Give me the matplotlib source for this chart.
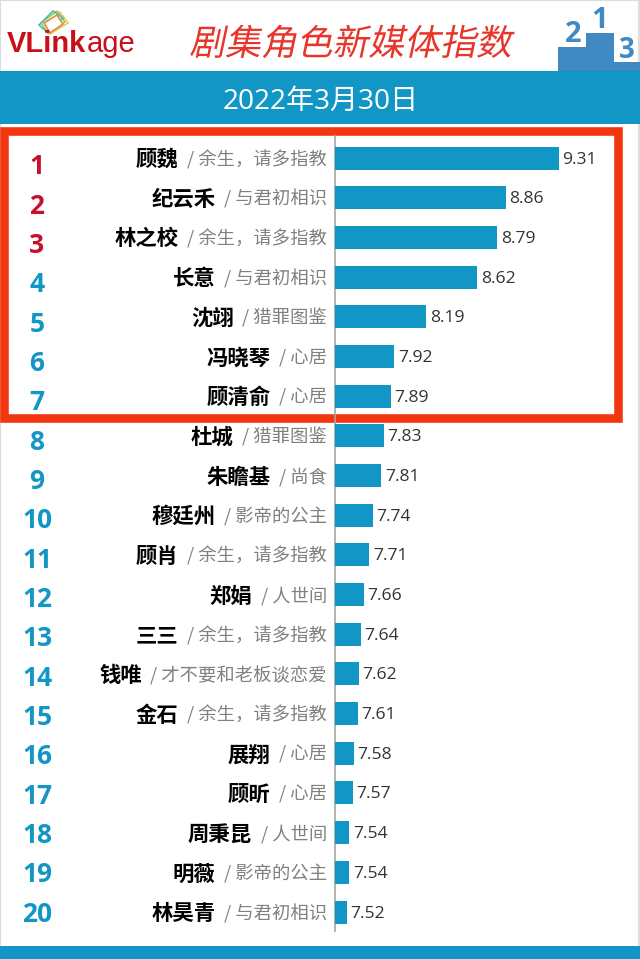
import matplotlib
matplotlib.use("Agg")
import matplotlib.pyplot as plt
from matplotlib.patches import Rectangle, Polygon
from matplotlib.patheffects import AbstractPathEffect
from matplotlib.transforms import Affine2D

plt.rcParams['font.family'] = ['Noto Sans CJK SC', 'DejaVu Sans']

ranks = list(range(1, 21))
names = ['顾魏', '纪云禾', '林之校', '长意', '沈翊', '冯晓琴', '顾清俞', '杜城', '朱瞻基', '穆廷州',
         '顾肖', '郑娟', '三三', '钱唯', '金石', '展翔', '顾昕', '周秉昆', '明薇', '林昊青']
shows = ['余生，请多指教', '与君初相识', '余生，请多指教', '与君初相识', '猎罪图鉴', '心居', '心居', '猎罪图鉴', '尚食', '影帝的公主',
         '余生，请多指教', '人世间', '余生，请多指教', '才不要和老板谈恋爱', '余生，请多指教', '心居', '心居', '人世间', '影帝的公主', '与君初相识']
values = [9.31, 8.86, 8.79, 8.62, 8.19, 7.92, 7.89, 7.83, 7.81, 7.74,
          7.71, 7.66, 7.64, 7.62, 7.61, 7.58, 7.57, 7.54, 7.54, 7.52]

BLUE = '#1296c5'
RED = '#f2360f'
W, H = 640, 959


class Slant(AbstractPathEffect):
    # CJK fonts have no italic, so shear the glyph outlines
    def draw_path(self, renderer, gc, tpath, affine, rgbFace=None):
        renderer.draw_path(gc, tpath, Affine2D().skew_deg(12, 0) + affine, rgbFace)


fig = plt.figure(figsize=(W / 100, H / 100), dpi=100, facecolor='white')

# page layer in pixel coordinates
bg = fig.add_axes([0, 0, 1, 1])
bg.set_xlim(0, W)
bg.set_ylim(H, 0)
bg.axis('off')

bg.add_patch(Rectangle((0, 0), W - 1, H - 1, fill=False, ec='#dddddd', lw=1.5))
bg.add_patch(Rectangle((0, 71), W, 53, fc=BLUE, ec='none'))
bg.add_patch(Rectangle((0, 946), W, 13, fc=BLUE, ec='none'))
bg.add_patch(Rectangle((4, 131), 614, 287, fill=False, ec=RED, lw=6.2, zorder=5))

# podium
pod = '#4089c3'
bg.add_patch(Rectangle((558, 47), 28, 24, fc=pod, ec='none'))
bg.add_patch(Rectangle((586, 33), 28, 38, fc=pod, ec='none'))
bg.add_patch(Rectangle((614, 62), 26, 9, fc=pod, ec='none'))
bg.text(573, 35, '2', color=pod, fontsize=21, fontweight='bold', family='Open Sans', ha='center', va='center')
bg.text(600, 21, '1', color=pod, fontsize=21, fontweight='bold', family='Open Sans', ha='center', va='center')
bg.text(627, 51, '3', color=pod, fontsize=20, fontweight='bold', family='Open Sans', ha='center', va='center')

# logo cards
bg.add_patch(Polygon([(50, 34), (68, 23), (60, 12), (43, 23)], fc='white', ec='#e9cf5e', lw=1.2))
bg.add_patch(Polygon([(48, 33), (65, 22), (57, 11), (41, 23)], fc='white', ec='#8cc63f', lw=1.0))
bg.add_patch(Polygon([(39, 25), (53, 11), (63, 18), (48, 33)], fc='none', ec='#4fbcb0', lw=1.2))
bg.add_patch(Polygon([(44, 23), (57, 15), (63, 24), (50, 33)], fc='white', ec='#e08a3c', lw=1.2))
vl = bg.text(7, 44, 'VLink', color='#c8101a', fontsize=21, fontweight='bold', family='Liberation Sans', ha='left', va='center')
fig.canvas.draw()
rend = fig.canvas.get_renderer()
end = vl.get_window_extent(rend).x1
bg.text(end, 44, 'age', color='#c8101a', fontsize=21, family='Liberation Sans', ha='left', va='center')

bg.text(350.5, 45, '剧集角色新媒体指数', color='#e8352a', fontsize=25.8, ha='center', va='center', path_effects=[Slant()])
bg.text(320.5, 102, '2022年3月30日', color='white', fontsize=20.2,
        family=['Open Sans', 'Noto Sans CJK SC'], ha='center', va='center')

# bars
px_per_unit = 118.4
x0 = 7.419
ax = fig.add_axes([335 / W, 0, (W - 335) / W, 1])
ax.set_ylim(H, 0)
ax.axis('off')
ax.patch.set_alpha(0)

bar_y = [158 + (912 - 158) / 19 * i for i in range(20)]
ax.barh(bar_y, values, left=0, height=23, color=BLUE)
ax.set_xlim(x0, x0 + (W - 335) / px_per_unit)
bg.plot([335, 335], [136, 931], color='#a6a6a6', lw=1.2, zorder=6)

for y, v in zip(bar_y, values):
    ax.text(v + 3.5 / px_per_unit, y + 1.5, f'{v:.2f}', fontsize=12.6, color='#333333',
            va='center', ha='left', family='Open Sans')

for i, r in enumerate(ranks):
    c = '#c8102e' if r <= 3 else BLUE
    bg.text(37, 167 + (914 - 167) / 19 * i, str(r), color=c, fontsize=19, fontweight='bold',
            family='Open Sans', ha='center', va='center')

for y, name, show in zip(bar_y, names, shows):
    t = bg.text(327, y + 1.5, '/ ' + show, color='#808080', fontsize=13.2, ha='right', va='center')
    left = t.get_window_extent(rend).x0
    bg.text(left - 8.5, y + 1.5, name, color='black', fontsize=15.4, fontweight='bold', ha='right', va='center')

fig.savefig('out.png', dpi=100)
